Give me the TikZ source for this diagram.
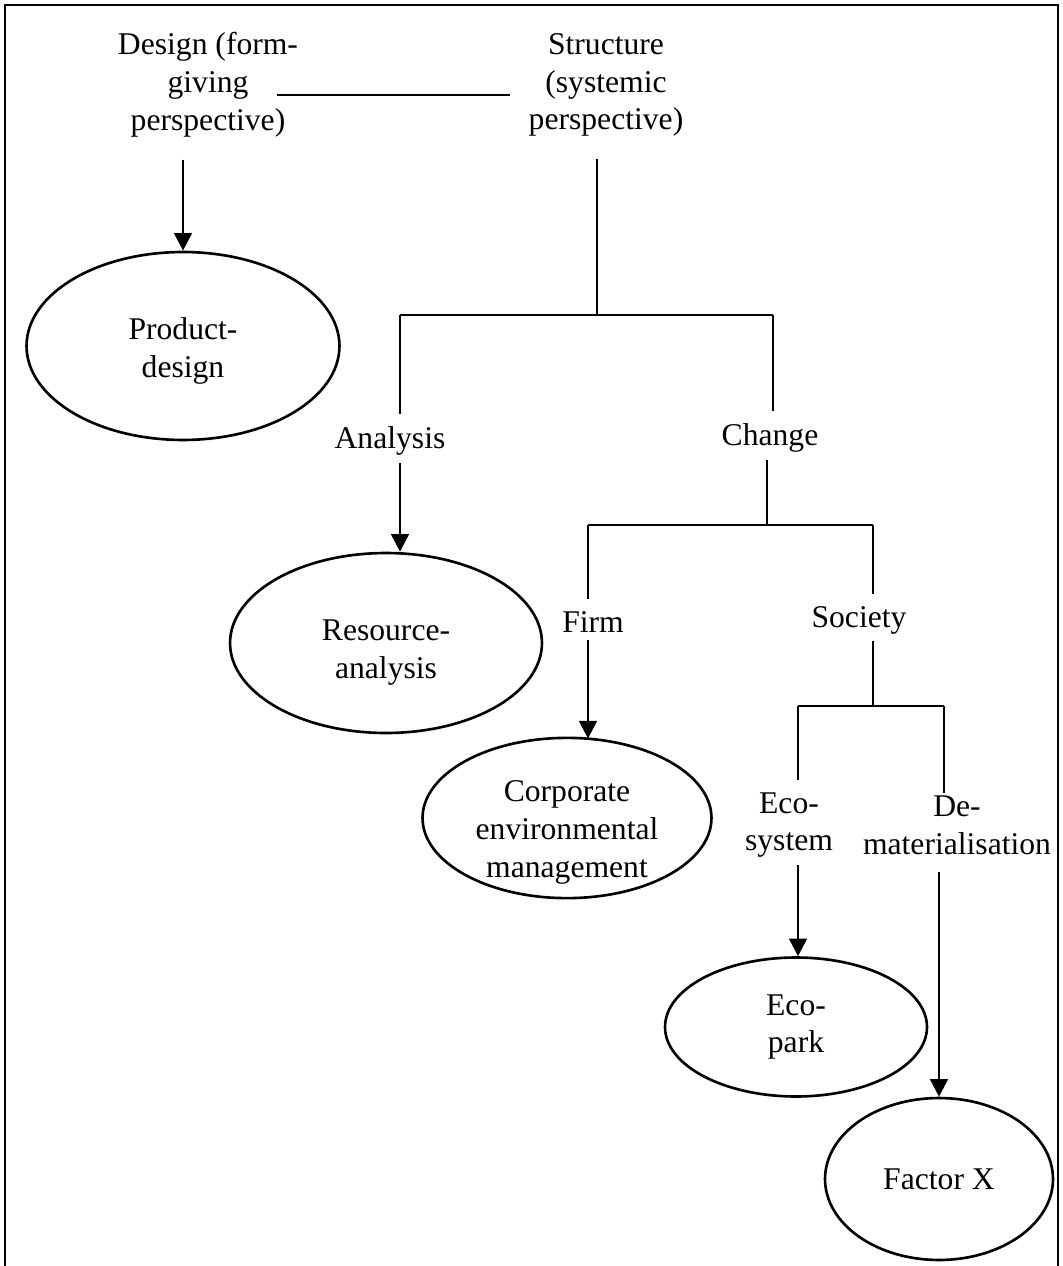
\documentclass[tikz,border=0pt]{standalone}
\usepackage{fontspec}
\setmainfont{Liberation Serif}
\usetikzlibrary{shapes.geometric,arrows.meta}

\newcommand{\lowtext}[2]{\raisebox{-#1}[\height][\depth]{\begin{tabular}{@{}c@{}}#2\end{tabular}}}

\tikzstyle{term} = [align=center, inner sep=4pt, font=\fontsize{18}{21.5}\selectfont]
\tikzstyle{leaf} = [ellipse, draw, line width=1.5pt, inner sep=0pt, align=center, font=\fontsize{18}{21.5}\selectfont]
\tikzstyle{tree} = [line width=1.6pt]
\tikzstyle{arrow} = [line width=1.6pt, -{Triangle[length=10pt,width=10pt]}]

\begin{document}
\begin{tikzpicture}[x=0.02cm,y=-0.02cm]
      \useasboundingbox (0,0) rectangle (1062,1266);
      \draw[line width=0.8pt] (5,1266) -- (5,5) -- (1058,5) -- (1058,1266);
      % top level
      \node[term] (design) at (208,85) {Design (form-\\giving\\perspective)};
      \node[term] (structure) at (606,85) {Structure\\(systemic\\perspective)};
      \node[leaf, minimum width=6.26cm, minimum height=3.76cm] (product) at (183,346) {\lowtext{3pt}{Product-\\design}};
      \draw[tree] ([xshift=-0.56cm,yshift=-0.2cm]design.east) -- ([xshift=-0.22cm,yshift=-0.2cm]structure.west);
      \draw[arrow] ([yshift=-0.3cm]design.south -| product) -- (product.north);
      % structure branch
      \coordinate (fork1) at (597,315);
      \coordinate (f1l) at (400,315);
      \coordinate (f1r) at (773,315);
      \node[term] (analysis) at (390,441) {Analysis};
      \node[term] (change) at (770,438) {Change};
      \node[leaf, minimum width=6.24cm, minimum height=3.6cm] (resource) at (386,643) {\lowtext{5pt}{Resource-\\analysis}};
      \draw[tree] ([yshift=-0.3cm]structure.south -| fork1) -- (fork1);
      \draw[tree] (f1l) -- (f1r);
      \draw[tree] (f1l) -- ([yshift=0.1cm]f1l |- analysis.north);
      \draw[tree] (f1r) -- ([yshift=0.1cm]f1r |- change.north);
      \draw[arrow] (f1l |- analysis.south) -- (f1l |- resource.north);
      % change branch
      \coordinate (f2l) at (588,525);
      \coordinate (f2r) at (873,525);
      \node[term] (firm) at (593,622) {Firm};
      \node[term] (society) at (859,620) {Society};
      \node[leaf, minimum width=5.78cm, minimum height=3.14cm] (corporate) at (567,818) {\lowtext{8pt}{Corporate\\environmental\\management}};
      \draw[tree] (change.south -| 767,0) -- (767,525);
      \draw[tree] (f2l) -- (f2r);
      \draw[tree] (f2l) -- ([yshift=0.1cm]f2l |- firm.north);
      \draw[tree] (f2r) -- ([yshift=0.1cm]f2r |- society.north);
      \draw[arrow] (f2l |- firm.south) -- ([yshift=-0.04cm]f2l |- corporate.north);
      % society branch
      \coordinate (f3l) at (798,706);
      \coordinate (f3r) at (944,706);
      \node[term] (eco) at (789,825) {Eco-\\system};
      \node[term] (demat) at (957,825) {De-\\materialisation};
      \node[leaf, minimum width=5.24cm, minimum height=2.78cm] (ecopark) at (796,1027) {Eco-\\park};
      \node[leaf, minimum width=4.56cm, minimum height=3.24cm] (factorx) at (939,1179) {Factor X};
      \draw[tree] (f2r |- society.south) -- (f2r |- f3l);
      \draw[tree] (f3l) -- (f3r);
      \draw[tree] (f3l) -- ([yshift=0.1cm]f3l |- eco.north);
      \draw[tree] (f3r) -- ([yshift=-0.1cm]f3r |- demat.north);
      \draw[arrow] (eco.south -| f3l) -- (f3l |- ecopark.north);
      \draw[arrow] ([yshift=-0.2cm]demat.south -| factorx) -- (factorx.north);
    \end{tikzpicture}
\end{document}
